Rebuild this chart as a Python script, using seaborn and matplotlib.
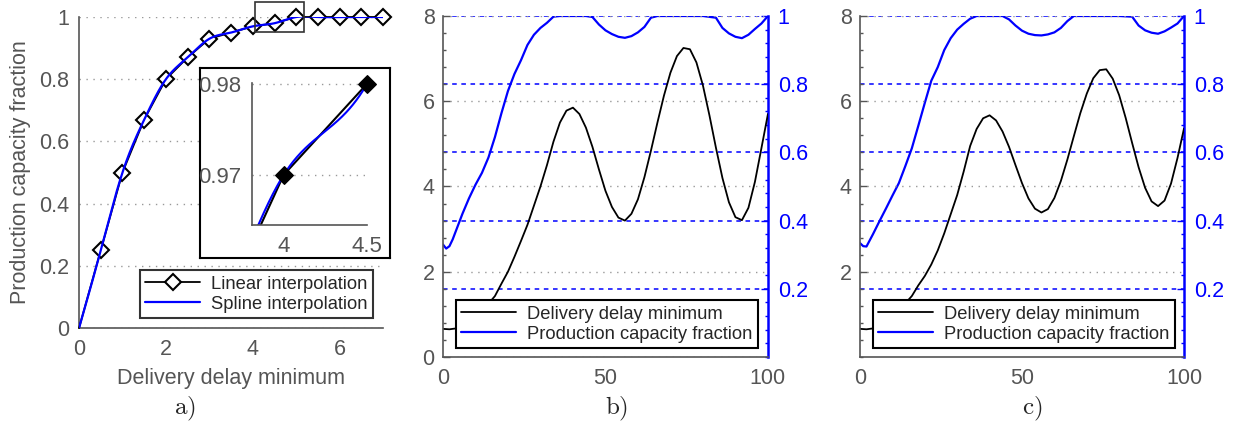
import numpy as np
import pandas as pd
import matplotlib
matplotlib.use("Agg")
import matplotlib.pyplot as plt
import seaborn as sns
from matplotlib.ticker import FuncFormatter, MultipleLocator
from matplotlib.patches import Rectangle

# ---------------- data ----------------
delay_knots = [0, 0.5, 1, 1.5, 2, 2.5, 3, 3.5, 4, 4.5, 5, 5.5, 6, 6.5, 7]
capacity_knots = [0, 0.25, 0.5, 0.67, 0.8, 0.87, 0.93, 0.95, 0.97, 0.98, 1, 1, 1, 1, 1]

time_b = [0, 2, 4, 6, 8, 10, 12, 14, 16, 18, 20, 22, 24, 26, 28, 30, 32, 34, 36, 38, 40,
          42, 44, 46, 48, 50, 52, 54, 56, 58, 60, 62, 64, 66, 68, 70, 72, 74, 76, 78, 80,
          82, 84, 86, 88, 90, 92, 94, 96, 98, 100]
delay_b = [0.66, 0.65, 0.67, 0.72, 0.82, 0.95, 1.1, 1.25, 1.43, 1.72, 2.0, 2.35, 2.72, 3.1,
           3.55, 4.0, 4.5, 5.05, 5.5, 5.78, 5.85, 5.7, 5.38, 4.93, 4.4, 3.9, 3.52, 3.27, 3.2,
           3.36, 3.7, 4.22, 4.84, 5.5, 6.13, 6.67, 7.06, 7.25, 7.22, 6.91, 6.37, 5.67, 4.91,
           4.2, 3.63, 3.28, 3.21, 3.5, 4.11, 4.9, 5.7]
time_cap_b = [0, 1, 2, 3, 4, 6, 8, 10, 12, 14, 16, 18, 20, 22, 24, 26, 28, 30, 32, 34, 36,
              40, 44, 46, 48, 50, 52, 54, 56, 58, 60, 62, 64, 66, 70, 80, 84, 86, 88, 90,
              92, 94, 96, 98, 100]
cap_b = [0.33, 0.318, 0.325, 0.345, 0.37, 0.42, 0.465, 0.505, 0.54, 0.585, 0.645, 0.715,
         0.78, 0.83, 0.87, 0.915, 0.945, 0.965, 0.98, 0.998, 1.0, 1.0, 1.0, 0.997, 0.975,
         0.958, 0.947, 0.939, 0.936, 0.941, 0.952, 0.968, 0.995, 1.0, 1.0, 1.0, 0.995,
         0.965, 0.949, 0.939, 0.935, 0.945, 0.962, 0.978, 1.0]

time_c = time_b
delay_c = [0.66, 0.65, 0.67, 0.72, 0.82, 0.95, 1.1, 1.26, 1.43, 1.68, 1.9, 2.17, 2.5, 2.9,
           3.35, 3.8, 4.35, 4.95, 5.35, 5.6, 5.67, 5.55, 5.29, 4.93, 4.5, 4.08, 3.72, 3.48,
           3.39, 3.47, 3.73, 4.13, 4.63, 5.18, 5.72, 6.18, 6.54, 6.73, 6.75, 6.53, 6.14,
           5.61, 5.02, 4.45, 3.97, 3.65, 3.54, 3.67, 4.07, 4.67, 5.36]
time_cap_c = [0, 1, 2, 4, 6, 8, 10, 12, 14, 16, 18, 20, 22, 24, 26, 28, 30, 32, 34, 36, 40,
              44, 46, 48, 50, 52, 54, 56, 58, 60, 62, 64, 66, 70, 80, 84, 86, 88, 90, 92,
              94, 96, 98, 100]
cap_c = [0.334, 0.325, 0.324, 0.36, 0.398, 0.435, 0.473, 0.51, 0.56, 0.612, 0.678, 0.745,
         0.81, 0.85, 0.9, 0.935, 0.96, 0.977, 0.992, 1.0, 1.0, 1.0, 0.99, 0.972, 0.957,
         0.948, 0.944, 0.943, 0.946, 0.952, 0.965, 0.985, 1.0, 1.0, 1.0, 0.998, 0.972,
         0.958, 0.951, 0.948, 0.955, 0.966, 0.978, 1.0]

left_ticks_a = [0, 0.2, 0.4, 0.6, 0.8, 1]
bottom_ticks_a = [0, 2, 4, 6]
inset_yticks = [0.97, 0.98]
inset_xticks = [4, 4.5]
time_ticks = [0, 50, 100]
left_ticks_b = [0, 2, 4, 6, 8]
left_ticks_c = [2, 4, 6, 8]
right_ticks = [0.2, 0.4, 0.6, 0.8, 1]
panel_labels = ["a)", "b)", "c)"]

# ---------------- style ----------------
sns.set_style("white")
plt.rcParams["font.family"] = ["Liberation Sans", "DejaVu Sans"]
plt.rcParams["mathtext.fontset"] = "cm"

GRAY = "#555555"
BLUE = "#0000ff"
TICK_FS = 15.5
LEG_FS = 13.2
fmt = FuncFormatter(lambda v, p: f"{v:g}")


def natural_spline(x, y, xq):
    x = np.asarray(x, float)
    y = np.asarray(y, float)
    n = len(x)
    h = np.diff(x)
    A = np.zeros((n, n))
    b = np.zeros(n)
    A[0, 0] = 1
    A[-1, -1] = 1
    for i in range(1, n - 1):
        A[i, i - 1] = h[i - 1]
        A[i, i] = 2 * (h[i - 1] + h[i])
        A[i, i + 1] = h[i]
        b[i] = 6 * ((y[i + 1] - y[i]) / h[i] - (y[i] - y[i - 1]) / h[i - 1])
    M = np.linalg.solve(A, b)
    idx = np.clip(np.searchsorted(x, xq) - 1, 0, n - 2)
    x0, x1 = x[idx], x[idx + 1]
    hh = x1 - x0
    t0, t1 = x1 - xq, xq - x0
    return ((M[idx] * t0 ** 3 + M[idx + 1] * t1 ** 3) / (6 * hh)
            + (y[idx] / hh - M[idx] * hh / 6) * t0
            + (y[idx + 1] / hh - M[idx + 1] * hh / 6) * t1)


spline_x = np.linspace(delay_knots[0], delay_knots[-1], 1401)
spline_y = natural_spline(delay_knots, capacity_knots, spline_x)
df_knots = pd.DataFrame({"x": delay_knots, "y": capacity_knots})
df_spline = pd.DataFrame({"x": spline_x, "y": spline_y})

INSET_XLIM = (3.81, 4.5)
INSET_YLIM = (0.9645, 0.9801)


def style_axis(ax, color=GRAY, sides=("left", "bottom")):
    for s in ["left", "right", "top", "bottom"]:
        ax.spines[s].set_visible(s in sides)
        ax.spines[s].set_color(color)
        ax.spines[s].set_linewidth(1.2)
    ax.tick_params(which="both", direction="in", colors=color, labelsize=TICK_FS)
    ax.tick_params(which="major", length=5, width=1)
    ax.tick_params(which="minor", length=2.5, width=1)
    ax.set_facecolor("none")


fig = plt.figure(figsize=(12.39, 4.36), dpi=100)

# ---------------- panel a ----------------
ax_a = fig.add_axes([0.0638, 0.2477, 0.2454, 0.7133])
sns.lineplot(data=df_knots, x="x", y="y", ax=ax_a, color="black", lw=1.3,
             marker="D", markersize=8, markerfacecolor="white", markeredgecolor="black",
             markeredgewidth=1.5, markevery=list(range(1, len(delay_knots))),
             label="Linear interpolation", clip_on=False, zorder=3)
sns.lineplot(data=df_spline, x="x", y="y", ax=ax_a, color=BLUE, lw=1.6,
             label="Spline interpolation", zorder=4)
ax_a.set_xlim(0, 7)
ax_a.set_ylim(0, 1)
ax_a.set_xticks(bottom_ticks_a)
ax_a.set_yticks(left_ticks_a)
ax_a.xaxis.set_major_formatter(fmt)
ax_a.yaxis.set_major_formatter(fmt)
ax_a.xaxis.set_minor_locator(MultipleLocator(0.25))
ax_a.yaxis.set_minor_locator(MultipleLocator(0.04))
style_axis(ax_a)
ax_a.tick_params(axis="x", pad=8)
ax_a.tick_params(axis="y", pad=7)
ax_a.yaxis.grid(True, color="#999999", linestyle=(0, (1, 4)), lw=1)
ax_a.set_xlabel("Delivery delay minimum", fontsize=TICK_FS, color=GRAY, labelpad=6)
ax_a.set_ylabel("Production capacity fraction", fontsize=TICK_FS, color=GRAY, labelpad=6)
leg = ax_a.legend(loc="lower right", bbox_to_anchor=(0.967, 0.032), borderaxespad=0,
                  fontsize=LEG_FS, frameon=True, fancybox=False, handlelength=3.0,
                  handletextpad=0.6, borderpad=0.3, labelspacing=0.15)
leg.get_frame().set_edgecolor("black")
leg.get_frame().set_linewidth(1.5)
leg.set_zorder(10)
ax_a.add_patch(Rectangle((4.05, 0.952), 1.13, 0.096, fill=False, edgecolor="#333333",
                         lw=1.2, clip_on=False, zorder=5))

# inset frame + inset axes
frame = fig.add_axes([0.1614, 0.4083, 0.1533, 0.4358])
frame.set_xticks([])
frame.set_yticks([])
frame.set_facecolor("white")
for s in frame.spines.values():
    s.set_color("black")
    s.set_linewidth(1.5)
frame.set_zorder(6)

ax_in = fig.add_axes([0.2034, 0.484, 0.0928, 0.3257])
ax_in.set_zorder(7)
sns.lineplot(data=df_knots, x="x", y="y", ax=ax_in, color="black", lw=1.5, legend=False)
sns.lineplot(data=df_spline, x="x", y="y", ax=ax_in, color=BLUE, lw=1.5, legend=False)
df_in = df_knots[(df_knots.x >= INSET_XLIM[0]) & (df_knots.x <= INSET_XLIM[1])]
sns.scatterplot(data=df_in, x="x", y="y", ax=ax_in, color="black", marker="D", s=80,
                edgecolor="black", linewidth=1, clip_on=False, zorder=5, legend=False)
ax_in.set_xlim(*INSET_XLIM)
ax_in.set_ylim(*INSET_YLIM)
ax_in.set_xticks(inset_xticks)
ax_in.set_yticks(inset_yticks)
ax_in.xaxis.set_major_formatter(fmt)
ax_in.yaxis.set_major_formatter(fmt)
style_axis(ax_in)
ax_in.tick_params(axis="both", labelsize=16, pad=8)
ax_in.yaxis.grid(True, color="#999999", linestyle=(0, (1, 4)), lw=1)
ax_in.set_xlabel("")
ax_in.set_ylabel("")


# ---------------- panels b, c ----------------
def time_panel(rect, t, delay, tc, cap, lticks):
    ax = fig.add_axes(rect)
    axr = ax.twinx()
    ax.set_zorder(2)
    axr.set_zorder(1)
    sns.lineplot(x=t, y=delay, ax=ax, color="black", lw=1.3, label="Delivery delay minimum")
    sns.lineplot(x=tc, y=cap, ax=axr, color=BLUE, lw=1.6, label="Production capacity fraction")
    ax.set_xlim(0, 100)
    ax.set_ylim(0, 8)
    axr.set_ylim(0, 1)
    ax.set_xticks(time_ticks)
    ax.set_yticks(lticks)
    axr.set_yticks(right_ticks)
    ax.xaxis.set_major_formatter(fmt)
    ax.yaxis.set_major_formatter(fmt)
    axr.yaxis.set_major_formatter(fmt)
    ax.xaxis.set_minor_locator(MultipleLocator(5))
    ax.yaxis.set_minor_locator(MultipleLocator(0.4))
    axr.yaxis.set_minor_locator(MultipleLocator(0.04))
    style_axis(ax)
    style_axis(axr, color=BLUE, sides=("right",))
    axr.spines["right"].set_linewidth(1.8)
    ax.tick_params(axis="x", pad=8)
    ax.tick_params(axis="y", pad=6)
    axr.tick_params(axis="y", pad=7)
    ax.yaxis.grid(True, color="#999999", linestyle=(0, (1, 4)), lw=1)
    axr.yaxis.grid(True, color=BLUE, linestyle=(0, (3, 3)), lw=1.1)
    ax.set_xlabel("")
    ax.set_ylabel("")
    axr.set_ylabel("")
    h1, l1 = ax.get_legend_handles_labels()
    h2, l2 = axr.get_legend_handles_labels()
    if axr.get_legend() is not None:
        axr.get_legend().remove()
    lg = ax.legend(h1 + h2, l1 + l2, loc="lower left", bbox_to_anchor=(0.04, 0.026),
                   borderaxespad=0, fontsize=LEG_FS, frameon=True, fancybox=False,
                   handlelength=3.0, handletextpad=0.6, borderpad=0.3, labelspacing=0.15)
    lg.get_frame().set_edgecolor("black")
    lg.get_frame().set_linewidth(1.5)
    lg.get_frame().set_facecolor("white")
    lg.get_frame().set_alpha(1)
    return ax, axr


time_panel([0.3575, 0.1812, 0.2623, 0.7821], time_b, delay_b, time_cap_b, cap_b, left_ticks_b)
time_panel([0.6941, 0.1812, 0.2615, 0.7821], time_c, delay_c, time_cap_c, cap_c, left_ticks_c)

# panel captions
for xpos, lab in zip([0.1493, 0.498, 0.833], panel_labels):
    fig.text(xpos, 0.062, r"$\mathrm{" + lab + "}$", ha="center", va="center", fontsize=18)

fig.savefig("out.png", dpi=100)
